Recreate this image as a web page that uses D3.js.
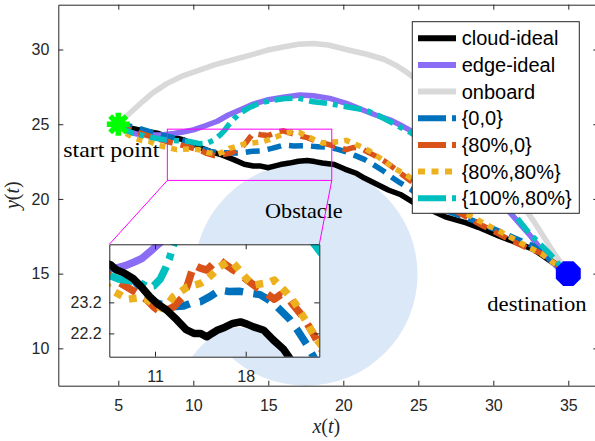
<!DOCTYPE html>
<meta charset="utf-8">
<style>
  body { margin: 0; background: white; }
  text { font-family: "Liberation Sans", Arial, sans-serif; }
  .serif { font-family: "Liberation Serif", "Times New Roman", serif; }
  .axis text { font-size: 16px; fill: #262626; }
  .axis path, .axis line { stroke: #262626; stroke-width: 1; }
</style>
<body>
<script src="https://d3js.org/d3.v7.min.js"></script>
<script>

// trajectories, [x, y]
const cloudIdeal = [[5,25],[5.5,24.8],[6,24.7],[6.5,24.6],[7,24.5],[7.6,24.4],[8,24.25],[8.6,24.15],[9.3,23.97],[9.9,23.72],[10.6,23.38],[11.2,23.15],[11.9,22.95],[12.7,22.63],[13.4,22.32],[14,22.2],[14.5,22.2],[15,22.09],[15.4,22.2],[15.8,22.3],[16.4,22.4],[17,22.52],[17.6,22.57],[18.1,22.5],[18.6,22.41],[19.4,22.3],[20.1,22.0],[20.9,21.7],[21.4,21.4],[22.2,21.0],[23,20.6],[23.8,20.3],[24.7,19.75],[25.4,19.45],[26,19.17],[26.8,18.8],[27.5,18.6],[28.2,18.4],[29,18.1],[29.7,17.8],[30.4,17.5],[31.2,17.2],[32,16.9],[32.7,16.6],[33.3,16.2],[33.8,15.84],[34.3,15.5],[35,15]];
const edgeIdeal = [[5,25],[5.6,24.5],[6.2,24.35],[7.1,24.28],[8,24.3],[8.7,24.38],[9.4,24.5],[10,24.62],[10.8,24.9],[11.6,25.2],[12.3,25.6],[13.1,25.95],[14,26.35],[14.9,26.62],[16,26.8],[17.1,26.95],[18,26.9],[19.1,26.73],[20.2,26.4],[21.3,25.95],[22.2,25.6],[23.1,25.3],[23.8,24.95],[24.4,24.62],[25.2,24.1],[26.2,23.4],[27.2,22.6],[28.2,21.8],[29.2,20.9],[30.2,20.0],[31.1,19.1],[31.8,18.3],[32.5,17.5],[33.2,16.6],[33.7,16.0],[34.3,15.4],[35,15]];
const onboard = [[5,25],[5.5,25.5],[6,25.95],[6.6,26.5],[7.3,27.1],[8.2,27.7],[9.2,28.2],[10.4,28.62],[11.5,29.0],[12.6,29.3],[13.8,29.62],[14.9,29.95],[15.9,30.15],[17,30.35],[18,30.4],[19,30.3],[20.4,29.95],[21.5,29.7],[22.7,29.35],[23.5,28.95],[24.2,28.5],[25,27.9],[26,27.0],[27,26.0],[28,24.9],[29,23.7],[30,22.4],[31,21.0],[32,19.5],[32.7,18.5],[33.4,17.4],[34.1,16.3],[34.6,15.6],[35,15]];
const c0_0 = [[5,25],[5.5,24.9],[6,24.84],[6.6,24.65],[7.1,24.5],[7.8,24.3],[8.5,24.15],[9.3,23.95],[10,23.6],[10.6,23.35],[11.1,23.18],[11.8,23.1],[12.6,23.07],[13.2,23.08],[13.8,23.18],[14.5,23.22],[15.3,23.4],[16,23.6],[16.7,23.55],[17.5,23.56],[18.3,23.5],[19.1,23.45],[19.7,23.3],[20.2,23.15],[20.8,22.9],[21.4,22.65],[22,22.3],[22.7,21.85],[23.3,21.4],[23.8,21.07],[24.5,20.65],[25.2,20.1],[26,19.6],[27,19.15],[28.2,18.73],[29.3,18.3],[30.4,17.84],[31.5,17.35],[32.7,16.84],[33.5,16.2],[34.2,15.6],[35,15]];
const c80_0 = [[5,25],[5.4,24.7],[6,24.55],[6.6,24.35],[7.6,24.03],[8.2,23.85],[8.8,23.7],[9.6,23.5],[10.4,23.27],[10.9,23.05],[11.4,22.9],[11.9,22.95],[12.4,23.05],[13.1,23.35],[13.5,23.75],[13.8,24.15],[14,24.4],[14.5,24.3],[15,24.24],[15.5,24.45],[16,24.56],[16.5,24.4],[17.05,24.24],[17.6,24.1],[18.1,23.92],[18.8,23.7],[19.6,23.49],[20.2,23.3],[20.7,23.45],[21.2,23.38],[21.7,23.1],[22.2,22.85],[22.7,22.55],[23.2,22.2],[23.8,21.73],[24.5,21.2],[25.3,20.6],[26.2,20.0],[27.3,19.3],[28.3,18.75],[29.3,18.2],[30.3,17.7],[31.2,17.2],[32.2,16.75],[33.1,16.4],[33.8,15.9],[34.4,15.5],[35,15]];
const c80_80 = [[5,25],[5.5,24.4],[6,24.1],[6.6,23.9],[7.1,23.84],[7.6,23.6],[8.3,23.44],[8.9,23.3],[9.8,23.35],[10.4,23.29],[11,23.1],[11.6,23.0],[12.0,23.15],[12.4,23.38],[13,23.55],[13.5,23.7],[14.5,23.81],[15,23.95],[15.5,24.14],[16,24.35],[16.6,24.5],[17.05,24.46],[17.6,24.2],[18.1,23.95],[18.6,23.75],[19.2,23.8],[19.8,23.84],[20.2,23.92],[20.7,23.7],[21.2,23.49],[21.8,23.18],[22.2,22.9],[22.8,22.5],[23.3,22.1],[24,21.73],[24.8,21.2],[25.6,20.6],[26.5,20.0],[27.5,19.4],[28.5,18.85],[29.5,18.3],[30.5,17.8],[31.4,17.3],[32.3,16.8],[33.2,16.35],[33.9,15.8],[34.5,15.4],[35,15]];
const c100_80 = [[5,25],[5.5,24.6],[6,24.4],[7,24.15],[8.2,23.95],[9,23.9],[9.8,23.84],[10.4,23.7],[10.9,23.73],[11.4,23.95],[11.8,24.29],[12.1,24.6],[12.35,24.95],[12.7,25.35],[13.1,25.73],[13.7,26.1],[14.4,26.4],[15.2,26.6],[16.2,26.73],[17,26.75],[18,26.5],[19,26.4],[20.2,26.17],[21.5,25.95],[22.3,25.6],[23.1,25.18],[23.8,24.8],[24.4,24.5],[25.3,23.9],[26.3,23.2],[27.3,22.4],[28.3,21.6],[29.3,20.8],[30.3,19.9],[31.3,19.1],[32.4,17.7],[33.2,16.9],[33.8,16.3],[34.4,15.6],[35,15]];

const seriesNames = ["cloud-ideal", "edge-ideal", "onboard", "{0,0}", "{80%,0}", "{80%,80%}", "{100%,80%}"];
const seriesData = [cloudIdeal, edgeIdeal, onboard, c0_0, c80_0, c80_80, c100_80];
const seriesColors = ["#000000", "#8b6cf5", "#d9d9d9", "#0072bd", "#d95319", "#edb120", "#00bfbf"];
const seriesDash = [null, null, null, [14, 8], [14, 8], [6, 6], [18, 6, 5, 6]];
const legendDash = [null, null, null, "28,6,4", "28,6,4", "7,6.5", "28,6,4"];

const xTicks = [5, 10, 15, 20, 25, 30, 35];
const yTicks = [10, 15, 20, 25, 30];
const insetXTicks = [11, 18];
const insetYTicks = [22.2, 23.2];

const obstacle = {cx: 17.5, cy: 14.95, r: 7.45};
const startPt = [5, 25];
const endPt = [35, 15];
const zoomBox = [8.27, 19.23, 21.24, 24.67];   // x0, x1, y0, y1 of the magenta frame

// main axes
const x = d3.scaleLinear().domain([1, 37]).range([58.3, 598.3]);
const y = d3.scaleLinear().domain([7.5, 33]).range([385.7, 4.7]);

// inset axes
const xi = d3.scaleLinear().domain([7.47, 23.68]).range([109.3, 319.3]);
const yi = d3.scaleLinear().domain([21.45, 25.07]).range([356.7, 244.3]);

const svg = d3.select("body").append("svg")
    .attr("width", 595)
    .attr("height", 441);

// obstacle
svg.append("ellipse")
    .attr("cx", x(obstacle.cx)).attr("cy", y(obstacle.cy))
    .attr("rx", x(obstacle.cx + obstacle.r) - x(obstacle.cx))
    .attr("ry", y(obstacle.cy) - y(obstacle.cy + obstacle.r))
    .attr("fill", "#dbe8f8");

// order: draw order of the series; dashScale stretches the dash pattern
function drawLines(g, sx, sy, w, dashScale, order) {
  const line = d3.line().x(d => sx(d[0])).y(d => sy(d[1]));
  order.forEach(i => {
    const dash = seriesDash[i] ? seriesDash[i].map(v => v * dashScale).join(",") : null;
    g.append("path")
      .attr("d", line(seriesData[i]))
      .attr("fill", "none")
      .attr("stroke", seriesColors[i])
      .attr("stroke-width", w)
      .attr("stroke-linejoin", "round")
      .attr("stroke-dasharray", dash);
  });
}

drawLines(svg.append("g"), x, y, 5.5, 1, [0, 1, 2, 3, 4, 5, 6]);

// labels
svg.append("text").attr("class", "serif")
    .attr("x", 63.3).attr("y", 156.7)
    .attr("font-size", 21).attr("textLength", 96).attr("lengthAdjust", "spacingAndGlyphs")
    .text("start point");
svg.append("text").attr("class", "serif")
    .attr("x", 265).attr("y", 218.3)
    .attr("font-size", 21).attr("textLength", 77.7).attr("lengthAdjust", "spacingAndGlyphs")
    .text("Obstacle");
svg.append("text").attr("class", "serif")
    .attr("x", 487.3).attr("y", 310.7)
    .attr("font-size", 21).attr("textLength", 99.4).attr("lengthAdjust", "spacingAndGlyphs")
    .text("destination");

// start marker: thick asterisk
const sm = svg.append("g")
    .attr("transform", `translate(${x(startPt[0])},${y(startPt[1])})`);
[0, 45, 90, 135].forEach(a => {
  sm.append("line")
    .attr("x1", -11.5).attr("x2", 11.5)
    .attr("transform", `rotate(${a})`)
    .attr("stroke", "#00ff00").attr("stroke-width", 5.5);
});
sm.append("circle").attr("r", 7.5).attr("fill", "#00ff00");

// destination marker: filled octagon
const oct = d3.range(8).map(k => {
  const a = Math.PI / 8 + k * Math.PI / 4;
  return [13.5 * Math.cos(a), 13.5 * Math.sin(a)];
});
svg.append("polygon")
    .attr("points", oct.map(p => p.join(",")).join(" "))
    .attr("transform", `translate(${x(endPt[0])},${y(endPt[1])})`)
    .attr("fill", "#0000ff");

// zoom frame and connectors
svg.append("rect")
    .attr("x", x(zoomBox[0])).attr("y", y(zoomBox[3]))
    .attr("width", x(zoomBox[1]) - x(zoomBox[0]))
    .attr("height", y(zoomBox[2]) - y(zoomBox[3]))
    .attr("fill", "none").attr("stroke", "#ff00ff").attr("stroke-width", 1);
svg.append("line")
    .attr("x1", x(zoomBox[0])).attr("y1", y(zoomBox[2]))
    .attr("x2", xi.range()[0]).attr("y2", yi.range()[1])
    .attr("stroke", "#ff00ff").attr("stroke-width", 1);
svg.append("line")
    .attr("x1", x(zoomBox[1])).attr("y1", y(zoomBox[2]))
    .attr("x2", xi.range()[1]).attr("y2", yi.range()[1])
    .attr("stroke", "#ff00ff").attr("stroke-width", 1);

// inset
const ix0 = xi.range()[0], ix1 = xi.range()[1], iy0 = yi.range()[1], iy1 = yi.range()[0];
svg.append("rect")
    .attr("x", ix0).attr("y", iy0).attr("width", ix1 - ix0).attr("height", iy1 - iy0)
    .attr("fill", "white");
svg.append("clipPath").attr("id", "insetClip")
  .append("rect")
    .attr("x", ix0).attr("y", iy0).attr("width", ix1 - ix0).attr("height", iy1 - iy0);
const inset = svg.append("g").attr("clip-path", "url(#insetClip)");
inset.append("ellipse")
    .attr("cx", xi(obstacle.cx)).attr("cy", yi(obstacle.cy))
    .attr("rx", xi(obstacle.cx + obstacle.r) - xi(obstacle.cx))
    .attr("ry", yi(obstacle.cy) - yi(obstacle.cy + obstacle.r))
    .attr("fill", "#dbe8f8");
drawLines(inset, xi, yi, 7.5, 1.3, [1, 2, 3, 4, 5, 6, 0]);

svg.append("g").attr("class", "axis")
    .attr("transform", `translate(0,${iy1})`)
    .call(d3.axisBottom(xi).tickValues(insetXTicks).tickSizeInner(-5).tickSizeOuter(0).tickPadding(13.5));
svg.append("g").attr("class", "axis")
    .attr("transform", `translate(0,${iy0})`)
    .call(d3.axisTop(xi).tickValues(insetXTicks).tickSizeInner(-5).tickSizeOuter(0).tickFormat(""));
svg.append("g").attr("class", "axis")
    .attr("transform", `translate(${ix0},0)`)
    .call(d3.axisLeft(yi).tickValues(insetYTicks).tickSizeInner(-5).tickSizeOuter(0).tickPadding(7.6).tickFormat(d3.format(".1f")));
svg.append("g").attr("class", "axis")
    .attr("transform", `translate(${ix1},0)`)
    .call(d3.axisRight(yi).tickValues(insetYTicks).tickSizeInner(-5).tickSizeOuter(0).tickFormat(""));

// main axes box
svg.append("g").attr("class", "axis")
    .attr("transform", `translate(0,${y.range()[0]})`)
    .call(d3.axisBottom(x).tickValues(xTicks).tickSizeInner(-5).tickSizeOuter(0).tickPadding(13.5));
svg.append("g").attr("class", "axis")
    .attr("transform", `translate(0,${y.range()[1]})`)
    .call(d3.axisTop(x).tickValues(xTicks).tickSizeInner(-5).tickSizeOuter(0).tickFormat(""));
svg.append("g").attr("class", "axis")
    .attr("transform", `translate(${x.range()[0]},0)`)
    .call(d3.axisLeft(y).tickValues(yTicks).tickSizeInner(-5).tickSizeOuter(0).tickPadding(9));
svg.append("g").attr("class", "axis")
    .attr("transform", `translate(${x.range()[1]},0)`)
    .call(d3.axisRight(y).tickValues(yTicks).tickSizeInner(-5).tickSizeOuter(0).tickFormat(""));

// axis titles
const xl = svg.append("text").attr("class", "serif")
    .attr("x", (x.range()[0] + x.range()[1]) / 2 - 2).attr("y", 433)
    .attr("text-anchor", "middle").attr("font-size", 20).attr("fill", "#262626");
xl.append("tspan").attr("font-style", "italic").text("x");
xl.append("tspan").text("(");
xl.append("tspan").attr("font-style", "italic").text("t");
xl.append("tspan").text(")");

const yl = svg.append("text").attr("class", "serif")
    .attr("transform", `translate(19,${(y.range()[0] + y.range()[1]) / 2}) rotate(-90)`)
    .attr("text-anchor", "middle").attr("font-size", 20).attr("fill", "#262626");
yl.append("tspan").attr("font-style", "italic").text("y");
yl.append("tspan").text("(");
yl.append("tspan").attr("font-style", "italic").text("t");
yl.append("tspan").text(")");

// legend
const lg = svg.append("g");
lg.append("rect")
    .attr("x", 412.3).attr("y", 21.7).attr("width", 167).attr("height", 191.6)
    .attr("fill", "white").attr("stroke", "#262626").attr("stroke-width", 1);
seriesNames.forEach((name, i) => {
  const ry = 38.3 + i * 26.65;
  lg.append("line")
    .attr("x1", 418).attr("x2", 456).attr("y1", ry).attr("y2", ry)
    .attr("stroke", seriesColors[i]).attr("stroke-width", 6)
    .attr("stroke-dasharray", legendDash[i]);
  lg.append("text")
    .attr("x", 461.7).attr("y", ry).attr("dy", "0.35em")
    .attr("font-size", 20).attr("fill", "#000")
    .text(name);
});

</script>
</body>
